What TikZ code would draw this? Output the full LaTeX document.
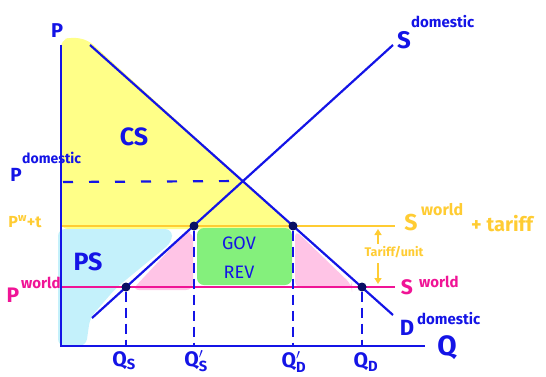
\documentclass[tikz,border=0pt]{standalone}
\usepackage{fontspec}
\setmainfont{Fira Sans}
\usetikzlibrary{arrows.meta, positioning, calc}
\definecolor{linecolor}{HTML}{1414E6}
\definecolor{tariffcolor}{HTML}{FFCC33}
\definecolor{worldcolor}{HTML}{F01496}
\definecolor{dotcolor}{HTML}{0A0F64}
\definecolor{csfill}{HTML}{FFFF88}
\definecolor{psfill}{HTML}{C4F1FB}
\definecolor{dwlfill}{HTML}{FFC4E6}
\definecolor{revfill}{HTML}{84F07C}

\begin{document}
\begin{tikzpicture}[x=1pt, y=-1pt,
    axis/.style={draw=linecolor, line width=2.6pt},
    curve/.style={draw=linecolor, line width=2.2pt},
    pricebar/.style={draw=#1, line width=2pt},
    guide/.style={draw=linecolor, line width=2pt, dash pattern=on 10pt off 6pt},
    dot/.style={circle, fill=dotcolor, inner sep=0pt, minimum size=9pt},
    lbl/.style={text=#1, inner sep=0pt, font=\fontsize{20}{20}\selectfont\bfseries},
    suptext/.style={text=#1, inner sep=0pt, font=\fontsize{15}{15}\selectfont\bfseries},
    area/.style={fill=#1, rounded corners=7pt},
    tick/.style={-{Triangle[length=6pt, width=7pt]}, draw=tariffcolor, fill=tariffcolor, line width=1.6pt}
]
    \useasboundingbox (0,0) rectangle (546,376);

    % key points
    \coordinate (origin) at (61,346);
    \coordinate (ptop) at (61,45);
    \coordinate (qend) at (425,346);
    \coordinate (dtop) at (90,45);
    \coordinate (dend) at (393,315);
    \coordinate (send) at (92,318);
    \coordinate (stop) at (393,45);
    \coordinate (eq) at (243,181);

    % shaded areas
    \path[area=csfill] (61,229) -- (61,40) -- (72,37) -- (88,40) -- (296,229) -- cycle;
    \path[area=psfill] (58,229) -- (172,229) -- (172,242) -- (116,288) -- (90,318) -- (86,346) -- (58,346) -- cycle;
    \path[area=dwlfill] (132,290) -- (186,232) -- (193,232) -- (193,290) -- cycle;
    \path[area=revfill] (197,228) rectangle (292,285);
    \path[area=dwlfill] (295,230) -- (352,285) -- (352,288) -- (295,288) -- cycle;

    % price lines
    \draw[pricebar=tariffcolor] (61,226) -- (395,226);
    \draw[pricebar=worldcolor] (61,287) -- (395,287);
    \draw[curve, dash pattern=on 10pt off 16pt] (63,182) -- (eq);

    % axes and curves
    \draw[axis] (ptop) -- (origin) -- (qend);
    \draw[curve] (dtop) -- (dend);
    \draw[curve] (send) -- (stop);

    % intersections
    \node[dot] (qs) at (126,287) {};
    \node[dot] (qsp) at (194,226) {};
    \node[dot] (qdp) at (293,226) {};
    \node[dot] (qd) at (362,287) {};
    \foreach \p in {qs, qsp, qdp, qd}
        \draw[guide] (\p) -- (\p |- origin);

    % tariff per unit
    \node[suptext=tariffcolor, font=\fontsize{12.5}{12.5}\selectfont\bfseries] (perunit) at (394,252) {Tariff/unit};
    \coordinate (tup) at (378,229);
    \coordinate (tdown) at (378,284);
    \draw[tick] (378,244) -- (tup);
    \draw[tick] (378,263) -- (tdown);

    % area labels
    \node[lbl=linecolor, font=\fontsize{25}{25}\selectfont\bfseries] (cs) at (134,137) {CS};
    \node[lbl=linecolor, font=\fontsize{25}{25}\selectfont\bfseries] (ps) at (88,262) {PS};
    \node[lbl=linecolor, font=\fontsize{18}{18}\selectfont] (gov) at (239,243) {GOV};
    \node[lbl=linecolor, font=\fontsize{18}{18}\selectfont] (rev) at (239,272) {REV};

    % axis labels
    \node[lbl=linecolor] (plabel) at (57,31) {P};
    \node[lbl=linecolor, font=\fontsize{28}{28}\selectfont\bfseries] (qlabel) at (447,348) {Q};
    \node[lbl=linecolor, font=\fontsize{21}{21}\selectfont\bfseries] (qslabel) at (124,361) {Q$_{\mathbf{S}}$};
    \node[lbl=linecolor, font=\fontsize{21}{21}\selectfont\bfseries] (qsplabel) at (196,361) {Q$'_{\mathbf{S}}$};
    \node[lbl=linecolor, font=\fontsize{21}{21}\selectfont\bfseries] (qdplabel) at (294,362) {Q$'_{\mathbf{D}}$};
    \node[lbl=linecolor, font=\fontsize{21}{21}\selectfont\bfseries] (qdlabel) at (366,362) {Q$_{\mathbf{D}}$};

    % price labels
    \node[lbl=linecolor, font=\fontsize{19}{19}\selectfont\bfseries] (pdom) at (16,175) {P};
    \node[suptext=linecolor, font=\fontsize{14}{14}\selectfont\bfseries, anchor=west] (pdomsup) at (22,158) {domestic};
    \node[lbl=tariffcolor, font=\fontsize{16}{16}\selectfont\bfseries] (ptariff) at (25,222) {P$^{\mathbf{w}}$+t};
    \node[lbl=worldcolor, font=\fontsize{21}{21}\selectfont\bfseries] (pworld) at (13,295) {P};
    \node[suptext=worldcolor, anchor=west] (pworldsup) at (21,283) {world};

    % curve labels
    \node[lbl=linecolor, font=\fontsize{24}{24}\selectfont\bfseries] (slabel) at (404,40) {S};
    \node[suptext=linecolor, anchor=west] (ssup) at (411,22) {domestic};
    \node[lbl=tariffcolor, font=\fontsize{23}{23}\selectfont\bfseries] (stlabel) at (411,223) {S};
    \node[suptext=tariffcolor, font=\fontsize{16}{16}\selectfont\bfseries, anchor=west] (stsup) at (421,210) {world};
    \node[lbl=tariffcolor, font=\fontsize{20}{20}\selectfont\bfseries, anchor=west] (stplus) at (471,224) {+ tariff};
    \node[lbl=worldcolor, font=\fontsize{21}{21}\selectfont\bfseries] (swlabel) at (407,287) {S};
    \node[suptext=worldcolor, anchor=west] (swsup) at (419,282) {world};
    \node[lbl=linecolor, font=\fontsize{22}{22}\selectfont\bfseries] (dlabel) at (407,328) {D};
    \node[suptext=linecolor, anchor=west] (dsup) at (417,319) {domestic};
\end{tikzpicture}
\end{document}
